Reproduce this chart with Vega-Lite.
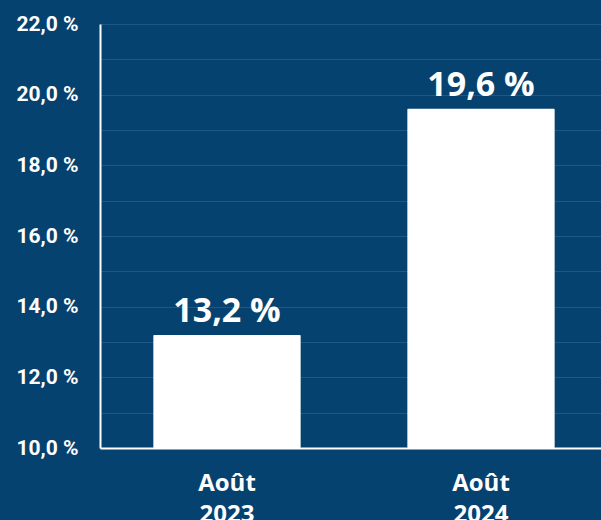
{
  "$schema": "https://vega.github.io/schema/vega-lite/v6.json",
  "width": 508,
  "height": 424,
  "autosize": "none",
  "padding": {"left": 100, "top": 24, "right": 0, "bottom": 72},
  "background": "#06426F",
  "config": {"view": {"stroke": null}},
  "data": {"values": [
    {"period": "Août 2023", "value": 13.2, "label": "13,2 %"},
    {"period": "Août 2024", "value": 19.6, "label": "19,6 %"}
  ]},
  "encoding": {
    "x": {
      "field": "period", "type": "nominal", "sort": null,
      "scale": {"paddingInner": 0.42, "paddingOuter": 0.21},
      "axis": {
        "title": null, "labelAngle": 0, "domain": true, "domainColor": "#FFFFFF", "domainWidth": 2,
        "ticks": false, "labelPadding": 23, "labelFont": "Open Sans", "labelFontWeight": "bold",
        "labelFontSize": 24, "labelColor": "#FFFFFF", "labelLineHeight": 31,
        "labelExpr": "split(datum.value, ' ')"
      }
    },
    "y": {
      "field": "value", "type": "quantitative",
      "scale": {"domain": [10, 22], "nice": false, "zero": false},
      "axis": {
        "title": null, "values": [10, 11, 12, 13, 14, 15, 16, 17, 18, 19, 20, 21, 22],
        "grid": true, "gridColor": "#1F5887", "gridWidth": 1,
        "domain": true, "domainColor": "#FFFFFF", "domainWidth": 2,
        "ticks": false, "labelPadding": 22, "labelFont": "Roboto", "labelFontWeight": "bold",
        "labelFontSize": 21, "labelColor": "#FFFFFF",
        "labelExpr": "datum.value % 2 == 0 ? replace(format(datum.value, '.1f'), '.', ',') + ' %' : ''"
      }
    }
  },
  "layer": [
    {"mark": {"type": "bar", "color": "#FFFFFF", "cornerRadius": 1}, "encoding": {"y2": {"datum": 10}}},
    {
      "mark": {"type": "text", "color": "#FFFFFF", "font": "Open Sans", "fontWeight": "bold", "fontSize": 34, "baseline": "alphabetic", "dy": -13},
      "encoding": {"text": {"field": "label"}}
    }
  ]
}
